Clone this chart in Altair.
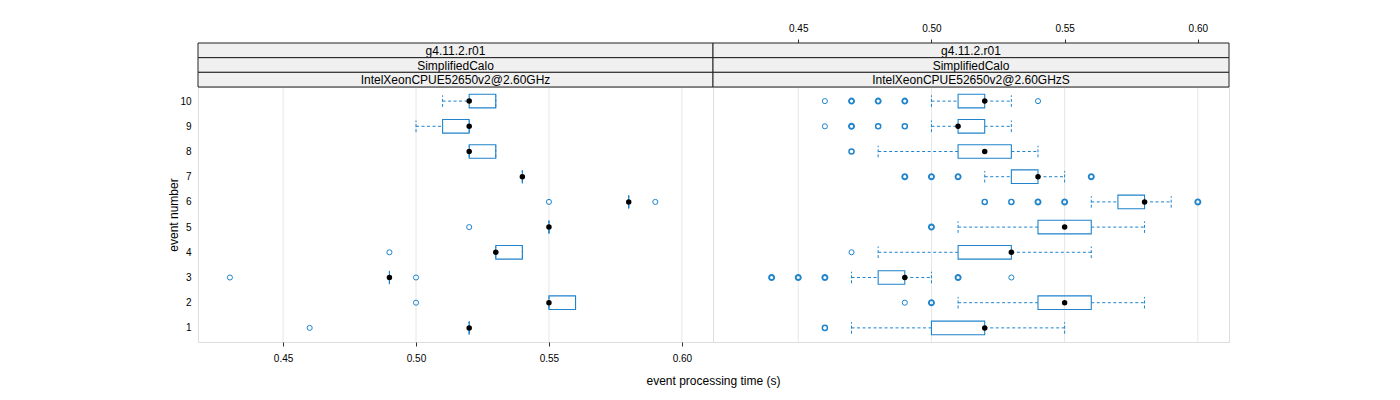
import altair as alt
import pandas as pd

events = [1, 2, 3, 4, 5, 6, 7, 8, 9, 10]
tick_values = [0.45, 0.50, 0.55, 0.60]
strip_left = ["g4.11.2.r01", "SimplifiedCalo", "IntelXeonCPUE52650v2@2.60GHz"]
strip_right = ["g4.11.2.r01", "SimplifiedCalo", "IntelXeonCPUE52650v2@2.60GHzS"]

# left panel box statistics
L_lo = [0.52, 0.55, 0.49, 0.53, 0.55, 0.58, 0.54, 0.52, 0.50, 0.51]
L_q1 = [0.52, 0.55, 0.49, 0.53, 0.55, 0.58, 0.54, 0.52, 0.51, 0.52]
L_med = [0.52, 0.55, 0.49, 0.53, 0.55, 0.58, 0.54, 0.52, 0.52, 0.52]
L_q3 = [0.52, 0.56, 0.49, 0.54, 0.55, 0.58, 0.54, 0.53, 0.52, 0.53]
L_hi = [0.52, 0.56, 0.49, 0.54, 0.55, 0.58, 0.54, 0.53, 0.52, 0.53]
L_out_ev = [1, 2, 3, 3, 4, 5, 6, 6]
L_out_val = [0.46, 0.50, 0.43, 0.50, 0.49, 0.52, 0.55, 0.59]
L_out_n = [1, 1, 1, 1, 1, 1, 1, 1]

# right panel box statistics
R_lo = [0.47, 0.51, 0.47, 0.48, 0.51, 0.56, 0.52, 0.48, 0.50, 0.50]
R_q1 = [0.50, 0.54, 0.48, 0.51, 0.54, 0.57, 0.53, 0.51, 0.51, 0.51]
R_med = [0.52, 0.55, 0.49, 0.53, 0.55, 0.58, 0.54, 0.52, 0.51, 0.52]
R_q3 = [0.52, 0.56, 0.49, 0.53, 0.56, 0.58, 0.54, 0.53, 0.52, 0.52]
R_hi = [0.55, 0.58, 0.50, 0.56, 0.58, 0.59, 0.55, 0.54, 0.53, 0.53]
R_out_ev = [1, 2, 2, 3, 3, 3, 3, 3, 4, 5, 6, 6, 6, 6, 6, 7, 7, 7, 7, 8,
            9, 9, 9, 9, 10, 10, 10, 10, 10]
R_out_val = [0.46, 0.49, 0.50, 0.44, 0.45, 0.46, 0.51, 0.53, 0.47, 0.50,
             0.52, 0.53, 0.54, 0.55, 0.60, 0.49, 0.50, 0.51, 0.56, 0.47,
             0.46, 0.47, 0.48, 0.49, 0.46, 0.47, 0.48, 0.49, 0.54]
R_out_n = [2, 1, 3, 3, 3, 3, 3, 1, 1, 3, 2, 2, 3, 3, 3, 3, 3, 3, 3, 2,
           1, 3, 2, 2, 1, 3, 3, 3, 1]

BLUE = "#1f84cc"
XDOM = [0.418, 0.6117]
YDOM = [0.44, 10.56]
H = 255
FONT = "Liberation Sans"
HB = 0.27   # half box height (event units)
HC = 0.23   # half cap height


def panel(lo, q1, med, q3, hi, oev, oval, on, strips, W, side):
    box = pd.DataFrame({"ev": events, "lo": lo, "q1": q1, "med": med, "q3": q3, "hi": hi})
    outl = pd.DataFrame({"ev": oev, "v": oval, "n": on})
    grid = pd.DataFrame({"t": tick_values})

    if side == "left":
        xaxis = alt.Axis(orient="bottom", values=tick_values, format=".2f", grid=False,
                         domain=False, tickSize=4, tickColor="#333", labelFontSize=10,
                         labelFont=FONT, labelColor="#000", labelPadding=7,
                         title="event processing time (s)", titleFont=FONT,
                         titleFontSize=12, titleFontWeight="normal", titleColor="#000",
                         titleX=W, titleY=33, titleAnchor="start", titleAlign="center",
                         titleBaseline="top")
        yaxis = alt.Axis(values=events, grid=False, domain=False, ticks=False,
                         labelOverlap=False, labelBound=False, labelFontSize=10,
                         labelFont=FONT, labelColor="#000", labelPadding=7,
                         title="event number", titleFont=FONT, titleFontSize=12,
                         titleFontWeight="normal", titleColor="#000", titleX=-25,
                         titleY=H / 2, titleAngle=-90, titleBaseline="middle",
                         titleAlign="center")
    else:
        xaxis = alt.Axis(orient="top", offset=44, values=tick_values, format=".2f",
                         grid=False, domain=False, tickSize=4, tickColor="#333",
                         labelFontSize=10, labelFont=FONT, labelColor="#000",
                         labelPadding=6, title=None)
        yaxis = None

    xs = alt.Scale(domain=XDOM, nice=False, zero=False)
    ys = alt.Scale(domain=YDOM, nice=False, zero=False)

    g = alt.Chart(grid).mark_rule(color="#e6e6e6", strokeWidth=1).encode(
        x=alt.X("t:Q", scale=xs, axis=xaxis))

    base = alt.Chart(box)
    # the axis-carrying layer: y = event
    whisk_lo = base.mark_rule(color=BLUE, strokeDash=[3, 2.5], strokeWidth=1).encode(
        x=alt.X("lo:Q", scale=xs), x2="q1:Q",
        y=alt.Y("ev:Q", scale=ys, axis=yaxis))
    whisk_hi = base.mark_rule(color=BLUE, strokeDash=[3, 2.5], strokeWidth=1).encode(
        x=alt.X("q3:Q", scale=xs), x2="hi:Q", y=alt.Y("ev:Q", scale=ys, axis=yaxis))
    caps = alt.Chart(box).transform_fold(["lo", "hi"], as_=["k", "c"]).transform_calculate(
        ya="datum.ev - %f" % HC, yb="datum.ev + %f" % HC
    ).mark_rule(color=BLUE, strokeDash=[3, 2], strokeWidth=1).encode(
        x=alt.X("c:Q", scale=xs), y=alt.Y("ya:Q", scale=ys, axis=yaxis), y2="yb:Q")
    rect = base.transform_calculate(
        ya="datum.ev - %f" % HB, yb="datum.ev + %f" % HB
    ).mark_rect(fill="white", fillOpacity=0, stroke=BLUE, strokeWidth=1.1).encode(
        x=alt.X("q1:Q", scale=xs), x2="q3:Q", y=alt.Y("ya:Q", scale=ys, axis=yaxis), y2="yb:Q")
    meds = base.mark_circle(color="black", opacity=1, size=30).encode(
        x=alt.X("med:Q", scale=xs), y=alt.Y("ev:Q", scale=ys, axis=yaxis))
    outs = alt.Chart(outl).mark_point(shape="circle", filled=False, color=BLUE,
                                      size=26, opacity=1).encode(
        x=alt.X("v:Q", scale=xs), y=alt.Y("ev:Q", scale=ys, axis=yaxis),
        strokeWidth=alt.StrokeWidth("n:Q", scale=alt.Scale(domain=[1, 3], range=[1.0, 1.9]),
                                    legend=None))

    layers = [g, whisk_lo, whisk_hi, caps, rect, meds, outs]
    sh = 44 / 3.0
    for i, s in enumerate(strips):
        d = pd.DataFrame({"label": [s]})
        y0 = -44 + i * sh
        layers.append(alt.Chart(d).mark_rect(fill="#f0f0f0", stroke="#222",
                                             strokeWidth=1).encode(
            x=alt.value(0), x2=alt.value(W), y=alt.value(y0), y2=alt.value(y0 + sh)))
        layers.append(alt.Chart(d).mark_text(font=FONT, fontSize=12, color="#000",
                                             baseline="middle", align="center").encode(
            x=alt.value(W / 2), y=alt.value(y0 + sh / 2 + 0.5), text="label:N"))

    return alt.layer(*layers).properties(width=W, height=H)


left = panel(L_lo, L_q1, L_med, L_q3, L_hi, L_out_ev, L_out_val, L_out_n, strip_left, 515, "left")
right = panel(R_lo, R_q1, R_med, R_q3, R_hi, R_out_ev, R_out_val, R_out_n, strip_right, 516, "right")

chart = alt.hconcat(left, right, spacing=0, bounds="flush").properties(
    padding={"left": 158, "top": 14, "right": 5, "bottom": 5}
).configure_view(stroke="#222", strokeWidth=1).configure(background="white"
).configure_axisY(labelOverlap=False)

chart.save("out.html", embed_options={"renderer": "svg", "actions": False})
